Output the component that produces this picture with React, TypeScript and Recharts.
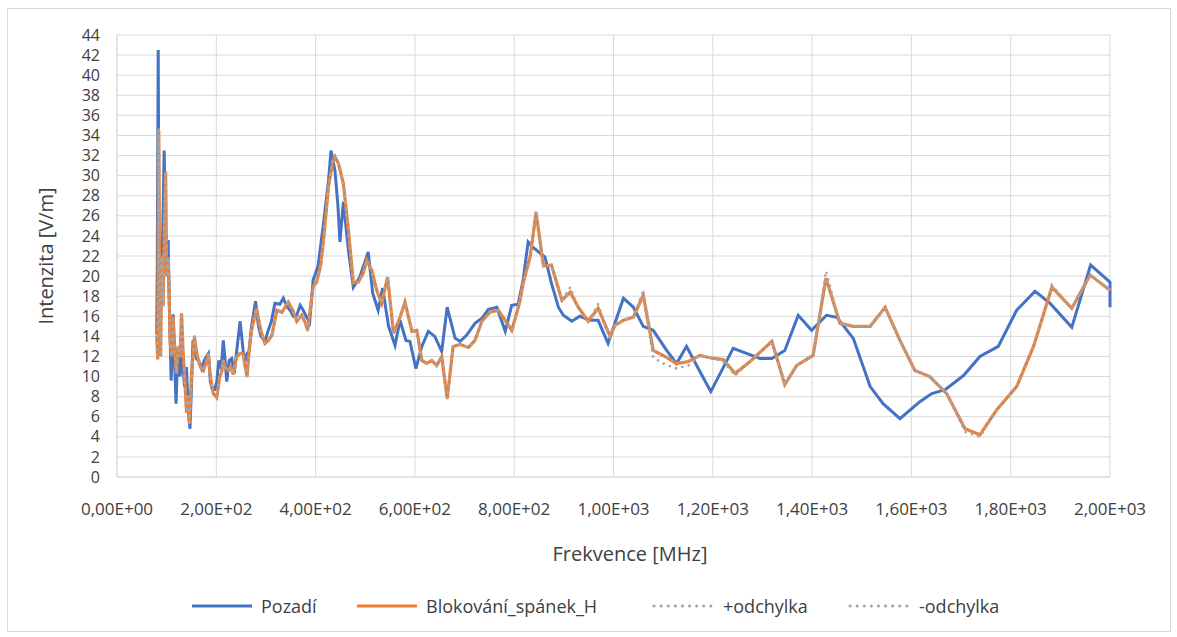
import { LineChart, Line, XAxis, YAxis, CartesianGrid } from "recharts";

// Pozadí (background) – frequency [MHz] and intensity [V/m]
const pozadiFreq = [
  80, 81, 83, 85, 87, 89, 92, 95, 98, 101,
  103, 105, 107, 109, 111, 113, 115, 117, 119, 121,
  124, 127, 130, 133, 136, 138, 140, 143, 145, 147,
  150, 153, 156, 160, 165, 170, 175, 180, 184, 188,
  192, 197, 201, 205, 210, 214, 218, 221, 226, 231,
  236, 241, 248, 254, 258, 262, 266, 271, 279, 285,
  290, 298, 304, 311, 318, 328, 335, 342, 350, 355,
  362, 369, 375, 382, 388, 395, 405, 416, 426, 431,
  439, 445, 449, 456, 466, 476, 489, 500, 506, 515,
  526, 535, 547, 560, 570, 582, 590, 602, 614, 627,
  640, 654, 665, 681, 691, 704, 721, 735, 748, 765,
  782, 795, 808, 818, 828, 839, 862, 875, 889, 899,
  916, 932, 953, 969, 989, 1020, 1040, 1060, 1080, 1107,
  1127, 1147, 1174, 1196, 1241, 1295, 1319, 1345, 1372, 1399,
  1429, 1450, 1483, 1517, 1543, 1577, 1617, 1641, 1668, 1705,
  1738, 1775, 1812, 1849, 1879, 1923, 1961, 2000, 2000,
];
const pozadiVal = [
  14.2, 20, 42.5, 17, 14, 20, 24, 32.5, 24, 20,
  23.6, 18, 14, 9.6, 12, 16.2, 13, 10, 7.3, 10.5,
  12.8, 10, 12, 11, 9, 10.8, 10.8, 7, 5.8, 4.8,
  9, 13.6, 12.5, 11.8, 11.5, 10.8, 11.5, 12, 12.3, 9.5,
  8.7, 8.7, 9.5, 11.6, 10.8, 13.6, 11.5, 9.5, 11.6, 11.8,
  10.3, 12.5, 15.5, 12.6, 11.5, 12.3, 12.5, 15, 17.5, 15,
  14, 13.5, 14.5, 15.5, 17.3, 17.2, 17.8, 17, 16.5, 16,
  16.1, 17.1, 16.6, 15.9, 15.4, 19.6, 21, 25.3, 29.5, 32.5,
  30.5, 27, 23.4, 27.4, 22.6, 18.9, 19.9, 21.5, 22.4, 18.3,
  16.6, 18.8, 15, 13.1, 15.6, 13.6, 13.5, 10.8, 13, 14.5,
  14, 12.5, 16.9, 13.8, 13.5, 14.1, 15.3, 15.8, 16.7, 16.9,
  14.5, 17.1, 17.2, 19.6, 23.4, 22.8, 21.9, 19.3, 16.9, 16.1,
  15.5, 16, 15.6, 15.6, 13.3, 17.8, 16.9, 15, 14.6, 12.6,
  11.3, 13, 10.5, 8.5, 12.8, 11.8, 11.8, 12.6, 16.1, 14.6,
  16.1, 15.9, 13.8, 9, 7.3, 5.8, 7.5, 8.3, 8.7, 10.1,
  12, 13, 16.6, 18.5, 17.3, 14.9, 21.1, 19.4, 16.9,
];

// Blokování_spánek_H and its deviations share one frequency list
const blokFreq = [
  80, 82, 84, 86, 88, 90, 93, 95, 98, 100,
  103, 105, 107, 110, 113, 117, 120, 123, 127, 130,
  133, 136, 140, 143, 146, 150, 153, 156, 160, 164,
  170, 174, 180, 184, 188, 194, 201, 207, 211, 214,
  219, 224, 229, 234, 241, 248, 254, 258, 262, 266,
  271, 281, 290, 298, 305, 312, 322, 332, 345, 355,
  362, 372, 378, 384, 395, 402, 410, 416, 426, 435,
  439, 446, 456, 466, 476, 486, 496, 503, 513, 523,
  533, 545, 557, 570, 580, 594, 604, 614, 624, 634,
  644, 654, 665, 677, 691, 708, 721, 735, 751, 768,
  782, 795, 806, 812, 818, 832, 844, 859, 875, 896,
  913, 929, 949, 969, 993, 1003, 1020, 1040, 1060, 1080,
  1100, 1127, 1151, 1174, 1201, 1221, 1245, 1275, 1319, 1345,
  1369, 1402, 1428, 1456, 1483, 1517, 1547, 1577, 1607, 1637,
  1671, 1708, 1738, 1772, 1812, 1846, 1883, 1923, 1960, 2000,
];
const blokVal = [
  14, 11.7, 34.5, 16, 12, 22, 17, 24, 30.4, 20,
  21.9, 18.3, 13.6, 12, 16, 12, 10.3, 13, 12, 16.3,
  12.5, 10.3, 6.4, 8, 5.4, 10.3, 12, 14, 12.5, 11.6,
  10.8, 10.6, 11.5, 12.3, 10, 8.3, 7.9, 10, 10.5, 11.6,
  10.8, 10.6, 11, 10.2, 12, 12.3, 12.3, 11, 10, 12.5,
  14.6, 16.8, 14.5, 13.3, 13.6, 14.1, 16.6, 16.4, 17.4, 16.5,
  15.5, 16.1, 15.5, 14.6, 18.9, 19.4, 21, 23.6, 28.9, 31.5,
  31.9, 31.2, 29.2, 24.6, 19.3, 19.4, 20.3, 21.6, 20.6, 18.6,
  17.3, 19.9, 14.3, 15.9, 17.4, 14.5, 14.6, 11.6, 11.3, 11.6,
  11.1, 12, 7.8, 13, 13.2, 12.9, 13.6, 15.5, 16.4, 16.6,
  15.6, 14.6, 16.5, 17.6, 19.3, 21.9, 26.3, 21, 21.1, 17.6,
  18.4, 16.9, 15.5, 16.8, 14, 15.1, 15.6, 15.9, 18.1, 12.6,
  12.1, 11.3, 11.5, 12.1, 11.8, 11.7, 10.3, 11.5, 13.5, 9.2,
  11.1, 12.1, 19.8, 15.3, 15, 15, 16.9, 13.6, 10.6, 10,
  8.3, 4.8, 4.2, 6.7, 9, 13, 18.9, 16.8, 20.1, 18.6,
];
const plusVal = [
  14, 11.7, 34.8, 16, 12, 22, 17, 24, 30.4, 20,
  21.9, 18.3, 13.6, 12, 16, 12, 10.3, 13, 12, 16.3,
  12.5, 10.3, 6.4, 8, 5.4, 10.3, 12, 14, 12.5, 11.6,
  10.8, 10.6, 11.5, 12.3, 10, 8.3, 7.9, 10, 10.5, 11.6,
  10.8, 10.6, 11, 10.2, 12, 12.3, 12.3, 11, 10, 12.5,
  14.6, 16.8, 14.5, 13.3, 13.6, 14.1, 16.6, 16.4, 17.4, 16.5,
  15.5, 16.1, 15.5, 14.6, 18.9, 19.4, 21, 23.6, 28.9, 31.5,
  31.9, 31.2, 29.2, 24.6, 19.3, 19.4, 20.3, 21.6, 20.6, 18.6,
  17.3, 19.9, 14.3, 15.9, 17.4, 14.5, 14.6, 11.6, 11.3, 11.6,
  11.1, 12, 7.8, 13, 13.2, 12.9, 13.6, 15.5, 16.4, 16.6,
  15.6, 14.6, 16.5, 17.6, 19.3, 21.9, 26.6, 21, 21.1, 17.6,
  18.9, 16.9, 15.5, 17.2, 14, 15.1, 15.6, 15.9, 18.6, 12.6,
  12.1, 11.3, 11.5, 12.1, 11.8, 11.7, 10.3, 11.5, 13.6, 9.2,
  11.1, 12.1, 20.5, 15.3, 15, 15, 16.9, 13.6, 10.6, 10,
  8.3, 4.8, 4.1, 6.7, 9, 13, 19.1, 16.8, 20.1, 18.6,
];
const minusVal = [
  14, 11.7, 34.5, 16, 12, 22, 17, 24, 30.4, 20,
  21.9, 18.3, 13.6, 12, 16, 12, 10.3, 13, 12, 16.3,
  12.5, 10.3, 6.4, 8, 5.4, 10.3, 12, 14, 12.5, 11.6,
  10.8, 10.6, 11.5, 12.3, 10, 8.3, 7.9, 10, 10.5, 11.6,
  10.8, 10.6, 11, 10.2, 12, 12.3, 12.3, 11, 10, 12.5,
  14.6, 16.8, 14.5, 13.3, 13.6, 14.1, 16.6, 16.4, 17.4, 16.5,
  15.5, 16.1, 15.5, 14.6, 18.9, 19.4, 21, 23.6, 28.9, 31.5,
  31.9, 31.2, 29.2, 24.6, 19.3, 19.4, 20.3, 21.6, 20.6, 18.6,
  17.3, 19.9, 14.3, 15.9, 17.4, 14.5, 14.6, 11.6, 11.3, 11.6,
  11.1, 12, 7.8, 13, 13.2, 12.9, 13.6, 15.5, 16.4, 16.6,
  15.6, 14.6, 16.5, 17.6, 19.3, 21.9, 26.3, 21, 21.1, 17.6,
  18.4, 16.9, 15.5, 16.8, 14, 15.1, 15.6, 15.9, 18.1, 11.9,
  11.3, 10.8, 11.1, 12.1, 11.8, 11.5, 10.1, 11.5, 13.5, 9.2,
  11.1, 12.1, 19.8, 15.3, 15, 15, 16.9, 13.6, 10.6, 10,
  8.3, 4.5, 4.0, 6.7, 9, 13, 18.9, 16.8, 20.1, 18.6,
];

const xTicks = [0, 200, 400, 600, 800, 1000, 1200, 1400, 1600, 1800, 2000];
const yTicks = [0, 2, 4, 6, 8, 10, 12, 14, 16, 18, 20, 22, 24, 26, 28, 30, 32, 34, 36, 38, 40, 42, 44];

const pozadiData = pozadiFreq.map((f, i) => ({ f, v: pozadiVal[i] }));
const blokData = blokFreq.map((f, i) => ({
  f,
  blok: blokVal[i],
  plus: plusVal[i],
  minus: minusVal[i],
}));

const BLUE = "#4472C4";
const ORANGE = "#ED7D31";
const GREY = "#A5A5A5";
const TEXT = "#404040";
const FONT = "'Open Sans', sans-serif";
const DOTS = "0.1 6.5";

// 2,00E+02 style
const sci = (v: number) => {
  const e = v === 0 ? 0 : Math.floor(Math.log10(v));
  const m = v / Math.pow(10, e);
  return `${m.toFixed(2).replace(".", ",")}E+${String(e).padStart(2, "0")}`;
};

const legendItems = [
  { label: "Pozadí", color: BLUE, dotted: false, left: 190 },
  { label: "Blokování_spánek_H", color: ORANGE, dotted: false, left: 355 },
  { label: "+odchylka", color: GREY, dotted: true, left: 652 },
  { label: "-odchylka", color: GREY, dotted: true, left: 848 },
];

export default function App() {
  return (
    <div style={{ position: "absolute", left: 0, top: 0, width: 1177, height: 637, background: "#fff", fontFamily: FONT }}>
      <div style={{ position: "absolute", left: 7, top: 8, width: 1162, height: 622, border: "1px solid #D9D9D9" }} />
      <div style={{ position: "absolute", left: 0, top: 0 }}>
        <LineChart width={1177} height={637} margin={{ top: 35, right: 67, bottom: 120, left: 0 }}>
          <CartesianGrid stroke="#D9D9D9" strokeWidth={1} />
          <XAxis
            dataKey="f"
            type="number"
            domain={[0, 2000]}
            ticks={xTicks}
            tickFormatter={sci}
            height={40}
            tickLine={false}
            tickSize={0}
            tickMargin={26}
            axisLine={{ stroke: "#D9D9D9" }}
            tick={{ fill: TEXT, fontSize: 17, fontFamily: FONT }}
            allowDuplicatedCategory={false}
          />
          <YAxis
            type="number"
            domain={[0, 44]}
            ticks={yTicks}
            interval={0}
            width={117}
            tickLine={false}
            tickSize={0}
            tickMargin={17}
            axisLine={{ stroke: "#D9D9D9" }}
            tick={{ fill: TEXT, fontSize: 16, fontFamily: FONT }}
          />
          <Line data={pozadiData} dataKey="v" type="linear" stroke={BLUE} strokeWidth={3} dot={false} isAnimationActive={false} />
          <Line data={blokData} dataKey="blok" type="linear" stroke={ORANGE} strokeWidth={3.2} dot={false} isAnimationActive={false} />
          <Line data={blokData} dataKey="plus" type="linear" stroke={GREY} strokeWidth={2.6} strokeDasharray={DOTS} strokeLinecap="round" dot={false} isAnimationActive={false} />
          <Line data={blokData} dataKey="minus" type="linear" stroke={GREY} strokeWidth={2.6} strokeDasharray={DOTS} strokeLinecap="round" dot={false} isAnimationActive={false} />
        </LineChart>
      </div>
      <div
        style={{
          position: "absolute",
          left: 45,
          top: 256,
          transform: "translate(-50%, -50%) rotate(-90deg)",
          whiteSpace: "nowrap",
          fontSize: 20,
          color: TEXT,
        }}
      >
        Intenzita [V/m]
      </div>
      <div
        style={{
          position: "absolute",
          left: 630,
          top: 553,
          transform: "translate(-50%, -50%)",
          whiteSpace: "nowrap",
          fontSize: 20,
          color: TEXT,
        }}
      >
        Frekvence [MHz]
      </div>
      {legendItems.map((it) => (
        <div
          key={it.label}
          style={{ position: "absolute", left: it.left, top: 606, transform: "translateY(-50%)", display: "flex", alignItems: "center", whiteSpace: "nowrap", fontSize: 18, color: TEXT }}
        >
          <svg width={64} height={8} style={{ marginRight: 7 }}>
            <line
              x1={2}
              y1={4}
              x2={62}
              y2={4}
              stroke={it.color}
              strokeWidth={3}
              strokeDasharray={it.dotted ? "0.1 7" : undefined}
              strokeLinecap={it.dotted ? "round" : "butt"}
            />
          </svg>
          <span>{it.label}</span>
        </div>
      ))}
    </div>
  );
}
